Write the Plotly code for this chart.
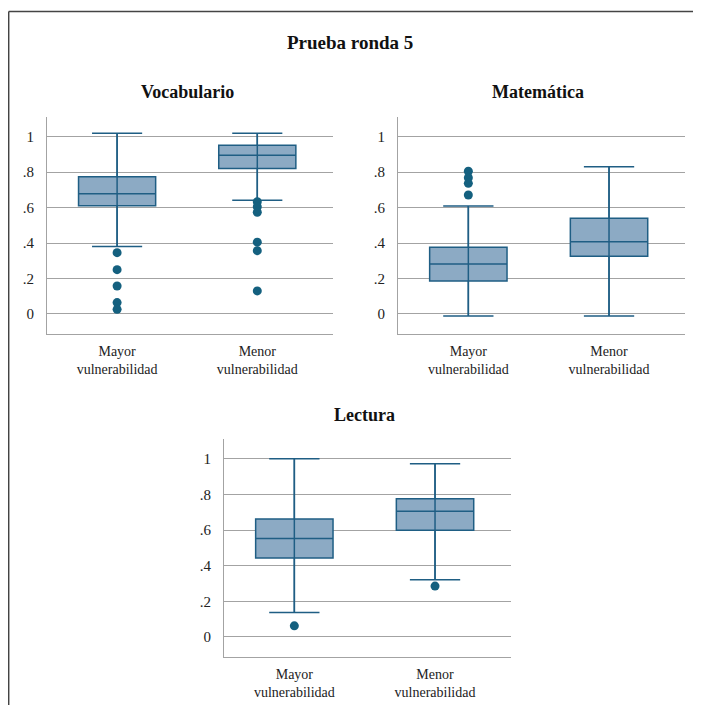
import plotly.graph_objects as go

# page body has an 8px margin; the figure is sized to fit inside it
OFF = 8
W, H = 701 - 2 * OFF, 713 - 2 * OFF

categories = ["Mayor<br>vulnerabilidad", "Menor<br>vulnerabilidad"]
tick_vals = [0, 0.2, 0.4, 0.6, 0.8, 1]
tick_text = ["0", ".2", ".4", ".6", ".8", "1"]

# Vocabulario
voc_low = [0.38, 0.641]
voc_q1 = [0.611, 0.82]
voc_med = [0.678, 0.895]
voc_q3 = [0.774, 0.951]
voc_up = [1.02, 1.02]
voc_out_mayor = [0.346, 0.25, 0.158, 0.064, 0.026]
voc_out_menor = [0.633, 0.605, 0.574, 0.405, 0.357, 0.13]

# Matemática
mat_low = [-0.011, -0.011]
mat_q1 = [0.186, 0.325]
mat_med = [0.282, 0.408]
mat_q3 = [0.376, 0.54]
mat_up = [0.609, 0.831]
mat_out_mayor = [0.805, 0.769, 0.737, 0.671]
mat_out_menor = []

# Lectura
lec_low = [0.137, 0.321]
lec_q1 = [0.443, 0.599]
lec_med = [0.552, 0.706]
lec_q3 = [0.662, 0.775]
lec_up = [1.0, 0.972]
lec_out_mayor = [0.062]
lec_out_menor = [0.285]

FILL = "#8caac4"
LINE = "#1f5e84"
DOT = "#14607f"
GRID = "#a3a3a3"
FONT = "Liberation Serif"
TXT = "#222222"

fig = go.Figure()

panels = [
    ("x", "y", voc_low, voc_q1, voc_med, voc_q3, voc_up, voc_out_mayor, voc_out_menor),
    ("x2", "y2", mat_low, mat_q1, mat_med, mat_q3, mat_up, mat_out_mayor, mat_out_menor),
    ("x3", "y3", lec_low, lec_q1, lec_med, lec_q3, lec_up, lec_out_mayor, lec_out_menor),
]

for xa, ya, lo, q1, med, q3, up, om, on in panels:
    fig.add_trace(go.Box(
        x=categories, lowerfence=lo, q1=q1, median=med, q3=q3, upperfence=up,
        xaxis=xa, yaxis=ya, fillcolor=FILL, line=dict(color=LINE, width=1.5),
        width=0.55, whiskerwidth=0.65, boxpoints=False, showlegend=False,
        hoverinfo="skip"))
    # whisker line continues through the box (as in the original)
    fig.add_trace(go.Scatter(
        x=[categories[0], categories[0], None, categories[1], categories[1]],
        y=[lo[0], up[0], None, lo[1], up[1]], mode="lines", xaxis=xa, yaxis=ya,
        line=dict(color=LINE, width=1.5), showlegend=False, hoverinfo="skip"))
    xs = [categories[0]] * len(om) + [categories[1]] * len(on)
    ys = list(om) + list(on)
    if ys:
        fig.add_trace(go.Scatter(
            x=xs, y=ys, mode="markers", xaxis=xa, yaxis=ya,
            marker=dict(color=DOT, size=9), showlegend=False, hoverinfo="skip"))

def px_x(p):
    return (p - OFF) / W

def px_y(p):
    return 1 - (p - OFF) / H

def yaxis(domain):
    return dict(domain=domain, range=[-0.113, 1.111], tickvals=tick_vals, ticktext=tick_text,
                showgrid=True, gridcolor=GRID, gridwidth=1, zeroline=False,
                showline=True, linecolor=GRID, linewidth=1, ticks="",
                ticklabelstandoff=9, tickfont=dict(family=FONT, size=15, color=TXT))

def xaxis(domain, anchor):
    return dict(domain=domain, range=[-0.5, 1.54], anchor=anchor, showgrid=False,
                showline=True, linecolor=GRID, linewidth=1, ticks="",
                tickfont=dict(family=FONT, size=14, color=TXT), type="category",
                ticklabelstandoff=4)

top_dom = [px_y(334), px_y(117)]
bot_dom = [px_y(657), px_y(439)]

fig.update_layout(
    width=W, height=H, margin=dict(l=0, r=0, t=0, b=0),
    plot_bgcolor="white", paper_bgcolor="white",
    xaxis=xaxis([px_x(47), px_x(333)], "y"),
    yaxis=dict(yaxis(top_dom), anchor="x"),
    xaxis2=xaxis([px_x(398), px_x(685)], "y2"),
    yaxis2=dict(yaxis(top_dom), anchor="x2"),
    xaxis3=xaxis([px_x(224), px_x(511)], "y3"),
    yaxis3=dict(yaxis(bot_dom), anchor="x3"),
    font=dict(family=FONT, color=TXT),
)

annos = [
    ("<b>Prueba ronda 5</b>", 350, 43, 19),
    ("<b>Vocabulario</b>", 187, 92, 18),
    ("<b>Matemática</b>", 538, 92, 18),
    ("<b>Lectura</b>", 364, 415, 18),
]
for t, x, y, s in annos:
    fig.add_annotation(text=t, x=px_x(x), y=px_y(y), xref="paper", yref="paper",
                       showarrow=False, xanchor="center", yanchor="middle",
                       font=dict(family=FONT, size=s, color="#111111"))

fig.add_shape(type="line", xref="paper", yref="paper", x0=0.001, x1=1.0,
              y0=px_y(11.5), y1=px_y(11.5), line=dict(color="#444444", width=1.5))
fig.add_shape(type="line", xref="paper", yref="paper", x0=0.001, x1=0.001,
              y0=px_y(11.5), y1=0, line=dict(color="#444444", width=1.5))

fig.write_html("out.html")
